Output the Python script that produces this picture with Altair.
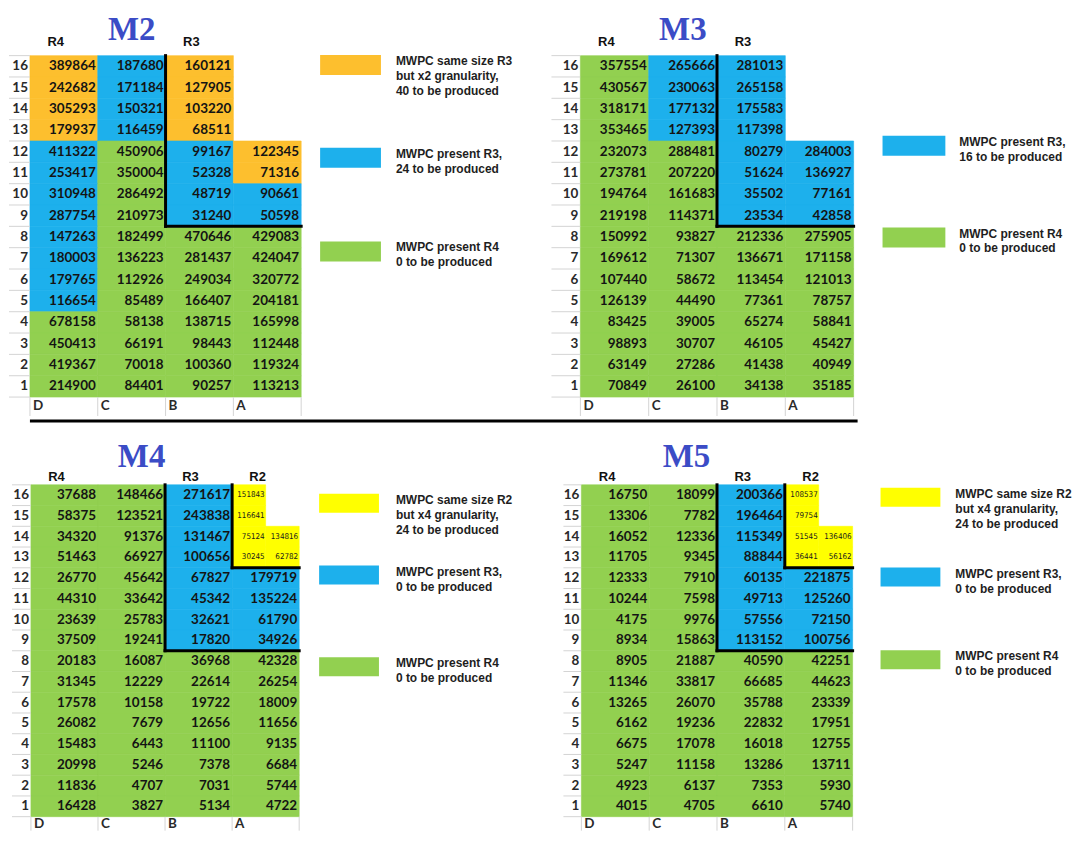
import altair as alt
import pandas as pd

# ---------------- data ----------------
COLUMNS = ["D", "C", "B", "A"]
ROWS = list(range(16, 0, -1))

M2_VALUES = [
    [389864, 187680, 160121, None],
    [242682, 171184, 127905, None],
    [305293, 150321, 103220, None],
    [179937, 116459, 68511, None],
    [411322, 450906, 99167, 122345],
    [253417, 350004, 52328, 71316],
    [310948, 286492, 48719, 90661],
    [287754, 210973, 31240, 50598],
    [147263, 182499, 470646, 429083],
    [180003, 136223, 281437, 424047],
    [179765, 112926, 249034, 320772],
    [116654, 85489, 166407, 204181],
    [678158, 58138, 138715, 165998],
    [450413, 66191, 98443, 112448],
    [419367, 70018, 100360, 119324],
    [214900, 84401, 90257, 113213],
]
M2_ZONES = ["OBO-", "OBO-", "OBO-", "OBO-", "BGBO", "BGBO", "BGBB", "BGBB",
            "BGGG", "BGGG", "BGGG", "BGGG", "GGGG", "GGGG", "GGGG", "GGGG"]

M3_VALUES = [
    [357554, 265666, 281013, None],
    [430567, 230063, 265158, None],
    [318171, 177132, 175583, None],
    [353465, 127393, 117398, None],
    [232073, 288481, 80279, 284003],
    [273781, 207220, 51624, 136927],
    [194764, 161683, 35502, 77161],
    [219198, 114371, 23534, 42858],
    [150992, 93827, 212336, 275905],
    [169612, 71307, 136671, 171158],
    [107440, 58672, 113454, 121013],
    [126139, 44490, 77361, 78757],
    [83425, 39005, 65274, 58841],
    [98893, 30707, 46105, 45427],
    [63149, 27286, 41438, 40949],
    [70849, 26100, 34138, 35185],
]
M3_ZONES = ["GBB-", "GBB-", "GBB-", "GBB-", "GGBB", "GGBB", "GGBB", "GGBB",
            "GGGG", "GGGG", "GGGG", "GGGG", "GGGG", "GGGG", "GGGG", "GGGG"]

M4_VALUES = [
    [37688, 148466, 271617, None],
    [58375, 123521, 243838, None],
    [34320, 91376, 131467, None],
    [51463, 66927, 100656, None],
    [26770, 45642, 67827, 179719],
    [44310, 33642, 45342, 135224],
    [23639, 25783, 32621, 61790],
    [37509, 19241, 17820, 34926],
    [20183, 16087, 36968, 42328],
    [31345, 12229, 22614, 26254],
    [17578, 10158, 19722, 18009],
    [26082, 7679, 12656, 11656],
    [15483, 6443, 11100, 9135],
    [20998, 5246, 7378, 6684],
    [11836, 4707, 7031, 5744],
    [16428, 3827, 5134, 4722],
]
M4_R2_HALVES = [[151843, None], [116641, None], [75124, 134816], [30245, 62782]]

M5_VALUES = [
    [16750, 18099, 200366, None],
    [13306, 7782, 196464, None],
    [16052, 12336, 115349, None],
    [11705, 9345, 88844, None],
    [12333, 7910, 60135, 221875],
    [10244, 7598, 49713, 125260],
    [4175, 9976, 57556, 72150],
    [8934, 15863, 113152, 100756],
    [8905, 21887, 40590, 42251],
    [11346, 33817, 66685, 44623],
    [13265, 26070, 35788, 23339],
    [6162, 19236, 22832, 17951],
    [6675, 17078, 16018, 12755],
    [5247, 11158, 13286, 13711],
    [4923, 6137, 7353, 5930],
    [4015, 4705, 6610, 5740],
]
M5_R2_HALVES = [[108537, None], [79754, None], [51545, 136406], [36441, 56162]]

M45_ZONES = ["GGBY", "GGBY", "GGBY", "GGBY", "GGBB", "GGBB", "GGBB", "GGBB",
             "GGGG", "GGGG", "GGGG", "GGGG", "GGGG", "GGGG", "GGGG", "GGGG"]

HEADERS_R43 = [("R4", "D"), ("R3", "B")]
HEADERS_R432 = [("R4", "D"), ("R3", "B"), ("R2", "A")]

# region boundaries on the cell grid: (x, y, x2, y2) in column/row units
BORDERS_R3 = [(2, 16, 2, 8), (2, 8, 4, 8)]
BORDERS_R32 = [(2, 16, 2, 8), (2, 8, 4, 8), (3, 16, 3, 12), (3, 12, 4, 12)]

M2_LEGEND = [("O", "MWPC same size R3\nbut x2 granularity,\n40 to be produced"),
             ("B", "MWPC present R3,\n24 to be produced"),
             ("G", "MWPC present R4\n0 to be produced")]
M3_LEGEND = [("B", "MWPC present R3,\n16 to be produced"),
             ("G", "MWPC present R4\n0 to be produced")]
M45_LEGEND = [("Y", "MWPC same size R2\nbut x4 granularity,\n24 to be produced"),
              ("B", "MWPC present R3,\n0 to be produced"),
              ("G", "MWPC present R4\n0 to be produced")]

# ---------------- styles / layout ----------------
ZONE_DOMAIN = ["O", "B", "G", "Y"]
ZONE_RANGE = ["#FDBF2E", "#1DB0EC", "#92D050", "#FFFF00"]
ZONE_SCALE = alt.Scale(domain=ZONE_DOMAIN, range=ZONE_RANGE)
TITLE_BLUE = "#3B4CC6"
VAL_FONT = "Lato"
NARROW_FONT = "DejaVu Sans Condensed, Liberation Sans"
SANS = "Liberation Sans"

QUAD_W = 532
ROW_LAYOUT = {
    "top": dict(height=411, grid_bottom=389, rh=21.4, title_base=31, header_base=37, label_row=19),
    "bottom": dict(height=409, grid_bottom=394.8, rh=20.8, title_base=44, header_base=58, label_row=14),
}
PANEL_LAYOUT = {
    "M2": dict(left=22, cw=68.0, label_w=21, title_x=1.5),
    "M3": dict(left=42, cw=68.5, label_w=29, title_x=1.5),
    "M4": dict(left=23, cw=67.25, label_w=19, title_x=1.65),
    "M5": dict(left=43, cw=68.0, label_w=18, title_x=1.55),
}
LEGEND_LAYOUT = {
    "M2": dict(sx=313, sw=61, sh=20, tx=389, tops=[46, 139, 233]),
    "M3": dict(sx=345, sw=63, sh=20, tx=422, tops=[127, 219]),
    "M4": dict(sx=312, sw=60, sh=19, tx=389, tops=[71, 143, 235]),
    "M5": dict(sx=343, sw=60, sh=19, tx=418, tops=[65, 145, 228]),
}


def quadrant(name, values, zones, halves, headers, borders, legend, row_key):
    pl = PANEL_LAYOUT[name]
    rl = ROW_LAYOUT[row_key]
    lg = LEGEND_LAYOUT[name]
    cw, left = pl["cw"], pl["left"]
    H, gb, rh = rl["height"], rl["grid_bottom"], rl["rh"]
    xdom = [-left / cw, (QUAD_W - left) / cw]
    ydom = [-(H - gb) / rh, gb / rh]
    xs = alt.Scale(domain=xdom, nice=False, zero=False)
    ys = alt.Scale(domain=ydom, nice=False, zero=False)

    def X(f):
        return alt.X(f, type="quantitative", scale=xs, axis=None)

    def Y(f):
        return alt.Y(f, type="quantitative", scale=ys, axis=None)

    def ux(px):
        return (px - left) / cw

    def uy(py):
        return (gb - py) / rh

    # cells
    recs = []
    for i, r in enumerate(ROWS):
        for c, _col in enumerate(COLUMNS):
            z = zones[i][c]
            if z == "-":
                continue
            if z == "Y":
                for k, v in enumerate(halves[i]):
                    if v is None:
                        continue
                    recs.append(dict(x=c + k / 2, x2=c + (k + 1) / 2, y=r - 1, y2=r,
                                     ym=r - 0.5, zone=z, value=v, small=True))
            else:
                recs.append(dict(x=c, x2=c + 1, y=r - 1, y2=r, ym=r - 0.5,
                                 zone=z, value=values[i][c], small=False))
    cells = pd.DataFrame(recs)
    big = cells[~cells["small"]]
    small = cells[cells["small"]]

    rect = alt.Chart(cells).mark_rect(strokeWidth=0.6).encode(
        x=X("x"), x2="x2:Q", y=Y("y"), y2="y2:Q",
        color=alt.Color("zone:N", scale=ZONE_SCALE, legend=None),
        stroke=alt.Stroke("zone:N", scale=ZONE_SCALE, legend=None),
    )
    txt = alt.Chart(big).mark_text(align="right", baseline="middle", dx=-2,
                                   font=VAL_FONT, fontSize=13.5, fontWeight="bold",
                                   color="#141414").encode(
        x=X("x2"), y=Y("ym"), text=alt.Text("value:Q", format="d"))
    layers = [rect, txt]
    if len(small):
        stxt = alt.Chart(small).mark_text(align="right", baseline="middle", dx=-1,
                                          font=NARROW_FONT, fontSize=8,
                                          color="#1b1b1b").encode(
            x=X("x2"), y=Y("ym"), text=alt.Text("value:Q", format="d"))
        layers.append(stxt)

    # row labels and gray spreadsheet lines
    rowlab = pd.DataFrame({"row": ROWS, "ym": [r - 0.5 for r in ROWS], "x": [-2 / cw] * 16})
    layers.append(alt.Chart(rowlab).mark_text(align="right", baseline="middle",
                                              font=VAL_FONT, fontSize=13.5, fontWeight="bold",
                                              color="#2a2a2a").encode(
        x=X("x"), y=Y("ym"), text="row:N"))
    hl = pd.DataFrame({"y": list(range(0, 17)), "x": [-pl["label_w"] / cw] * 17, "x2": [0] * 17})
    layers.append(alt.Chart(hl).mark_rule(color="#d4d4d4", strokeWidth=1).encode(
        x=X("x"), x2="x2:Q", y=Y("y")))
    lrow = rl["label_row"] / rh
    vl = pd.DataFrame({"x": list(range(0, 5)), "y": [0] * 5, "y2": [-lrow] * 5})
    layers.append(alt.Chart(vl).mark_rule(color="#d4d4d4", strokeWidth=1).encode(
        x=X("x"), y=Y("y"), y2="y2:Q"))
    collab = pd.DataFrame({"col": COLUMNS, "x": [c + 3 / cw for c in range(4)],
                           "y": [-min(lrow / 2, 0.4)] * 4})
    layers.append(alt.Chart(collab).mark_text(align="left", baseline="middle",
                                              font=VAL_FONT, fontSize=13.5, fontWeight="bold",
                                              color="#2a2a2a").encode(
        x=X("x"), y=Y("y"), text="col:N"))

    # ring headers and title
    hd = pd.DataFrame({"label": [h[0] for h in headers],
                       "x": [COLUMNS.index(h[1]) + 0.38 for h in headers],
                       "y": [uy(rl["header_base"])] * len(headers)})
    layers.append(alt.Chart(hd).mark_text(align="center", baseline="alphabetic",
                                          font=SANS, fontSize=13, fontWeight="bold",
                                          color="#111").encode(
        x=X("x"), y=Y("y"), text="label:N"))
    td = pd.DataFrame({"t": [name], "x": [pl["title_x"]], "y": [uy(rl["title_base"])]})
    layers.append(alt.Chart(td).mark_text(align="center", baseline="alphabetic",
                                          font="Liberation Serif", fontSize=33,
                                          fontWeight="bold", color=TITLE_BLUE).encode(
        x=X("x"), y=Y("y"), text="t:N"))

    # black region boundaries
    bd = pd.DataFrame(borders, columns=["x", "y", "x2", "y2"])
    layers.append(alt.Chart(bd).mark_rule(color="black", strokeWidth=3, strokeCap="square").encode(
        x=X("x"), y=Y("y"), x2="x2:Q", y2="y2:Q"))

    # legend
    ld = pd.DataFrame({
        "zone": [e[0] for e in legend],
        "label": [e[1] for e in legend],
        "x": [ux(lg["sx"])] * len(legend),
        "x2": [ux(lg["sx"] + lg["sw"])] * len(legend),
        "y": [uy(t) for t in lg["tops"]],
        "y2": [uy(t + lg["sh"]) for t in lg["tops"]],
        "tx": [ux(lg["tx"])] * len(legend),
        "ty": [uy(t + 1) for t in lg["tops"]],
    })
    layers.append(alt.Chart(ld).mark_rect().encode(
        x=X("x"), x2="x2:Q", y=Y("y"), y2="y2:Q",
        color=alt.Color("zone:N", scale=ZONE_SCALE, legend=None)))
    layers.append(alt.Chart(ld).mark_text(align="left", baseline="top", lineBreak="\n",
                                          lineHeight=15, font=SANS, fontSize=12,
                                          fontWeight="bold", color="#1e1e1e").encode(
        x=X("tx"), y=Y("ty"), text="label:N"))

    return alt.layer(*layers).properties(width=QUAD_W, height=H)


q2 = quadrant("M2", M2_VALUES, M2_ZONES, None, HEADERS_R43, BORDERS_R3, M2_LEGEND, "top")
q3 = quadrant("M3", M3_VALUES, M3_ZONES, None, HEADERS_R43, BORDERS_R3, M3_LEGEND, "top")
q4 = quadrant("M4", M4_VALUES, M45_ZONES, M4_R2_HALVES, HEADERS_R432, BORDERS_R32, M45_LEGEND, "bottom")
q5 = quadrant("M5", M5_VALUES, M45_ZONES, M5_R2_HALVES, HEADERS_R432, BORDERS_R32, M45_LEGEND, "bottom")

sep = alt.Chart(pd.DataFrame({"a": [0]})).mark_rule(color="black", strokeWidth=3).encode(
    x=alt.value(22), x2=alt.value(852), y=alt.value(2)
).properties(width=2 * QUAD_W, height=4)

chart = alt.vconcat(
    alt.hconcat(q2, q3, spacing=0),
    sep,
    alt.hconcat(q4, q5, spacing=0),
    spacing=0,
    padding=0,
).configure(background="white").configure_view(stroke="transparent", strokeWidth=0)

chart.save("out.html", embed_options={"renderer": "svg", "actions": False})
